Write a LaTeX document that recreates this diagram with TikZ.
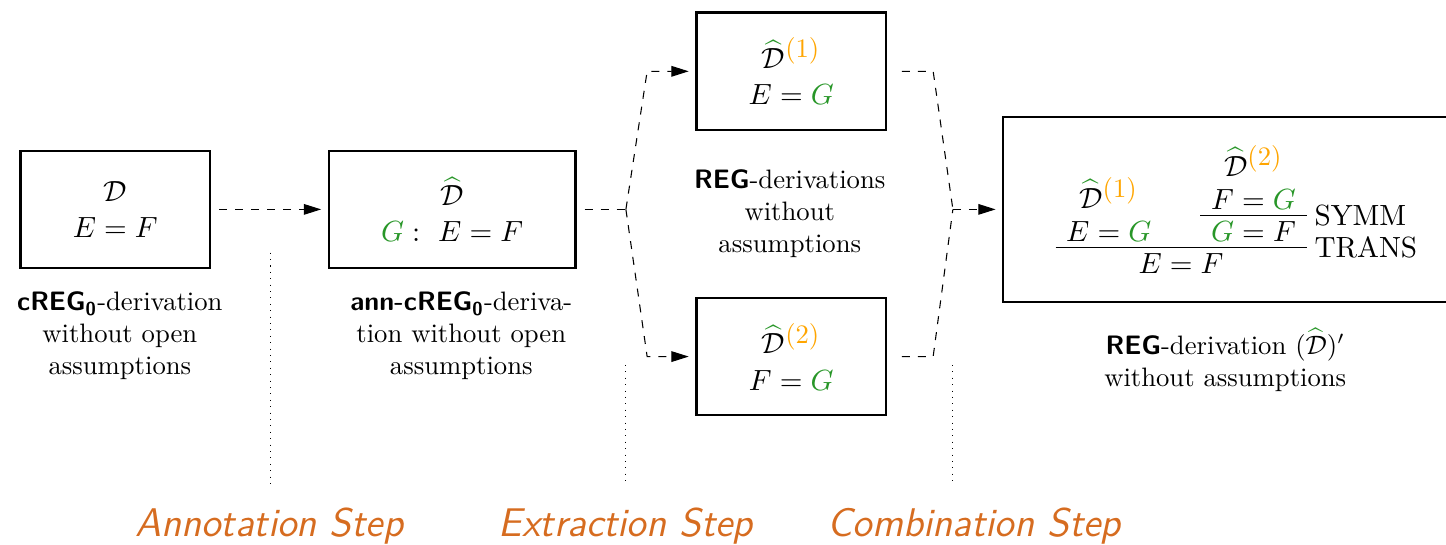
\documentclass[tikz,border=0pt]{standalone}
\usepackage{amsmath}
\usepackage{bussproofs}
\usetikzlibrary{arrows.meta}

\definecolor{anngreen}{RGB}{40,150,40}
\definecolor{idxorange}{RGB}{255,165,0}
\definecolor{stepcol}{RGB}{214,108,32}

\newcommand{\sysname}[1]{\textsf{\textbf{#1}}}
\newcommand{\Dann}{{\color{anngreen}\widehat{\color{black}\mathcal{D}}}}
\newcommand{\Didx}[1]{\Dann^{\text{\fontsize{10}{12}\selectfont\color{idxorange}(#1)}}}
\newcommand{\gG}{{\color{anngreen}G}}

\begin{document}
\begin{tikzpicture}[
  box/.style={draw, thick, align=center, minimum width=2.5cm, minimum height=1.55cm,
    font=\fontsize{10.95}{13.6}\selectfont},
  desc/.style={align=center},
  flow/.style={dashed, -{Triangle[length=6.5pt,width=4pt]}, shorten <=3pt, shorten >=2.5pt},
  link/.style={dashed, shorten <=3pt},
  sep/.style={dotted},
  stepname/.style={font=\fontsize{15}{18}\selectfont\sffamily\slshape, text=stepcol}]
\useasboundingbox (0,0) rectangle (19.06,7.18);
% the derivations
\node[box] (orig) at (1.52,4.42) {$\mathcal{D}$\\$E = F$};
\node[box, minimum width=3.25cm] (ann) at (5.96,4.42) {$\Dann$\\$\gG :\ E = F$};
\node[box] (part1) at (10.43,6.24) {$\Didx{1}$\\$E = \gG$};
\node[box] (part2) at (10.43,2.48) {$\Didx{2}$\\$F = \gG$};
\node[box, minimum width=6.27cm, minimum height=2.44cm] (comb) at (16.36,4.42) {%
  \AxiomC{$\Didx{1}$}\noLine\UnaryInfC{$E = \gG$}
  \AxiomC{$\Didx{2}$}\noLine\UnaryInfC{$F = \gG$}
  \RightLabel{SYMM}\UnaryInfC{$\gG = F$}
  \RightLabel{TRANS}\BinaryInfC{$E = F$}\DisplayProof};
% what each one is
\node[desc] (origtxt) at (1.58,2.75) {$\sysname{cREG}_{\sysname{0}}$-derivation\\without open\\assumptions};
\node[desc] (anntxt) at (6.08,2.75) {$\sysname{ann-cREG}_{\sysname{0}}$-deriva-\\tion without open\\assumptions};
\node[desc] (parttxt) at (10.41,4.36) {\sysname{REG}-derivations\\without\\assumptions};
\node[desc] (combtxt) at (16.15,2.44) {\sysname{REG}-derivation $(\Dann)'$\\without assumptions};
% fork and join points
\coordinate (fork) at (8.25,4.42);
\coordinate (forkup) at (8.53,6.24);
\coordinate (forkdown) at (8.53,2.48);
\coordinate (join) at (12.56,4.42);
\coordinate (joinup) at (12.30,6.24);
\coordinate (joindown) at (12.30,2.48);
\draw[flow] (orig) -- (ann);
\draw[link] (ann) -- (fork);
\draw[flow, shorten <=0pt] (fork) -- (forkup) -- (part1);
\draw[flow, shorten <=0pt] (fork) -- (forkdown) -- (part2);
\draw[link, shorten <=5.5pt] (part1) -- (joinup) -- (join);
\draw[link, shorten <=5.5pt] (part2) -- (joindown) -- (join);
\draw[flow, shorten <=0pt] (join) -- (comb);
% steps
\foreach \x/\top in {3.56/3.85, 8.25/2.37, 12.56/2.37}
  \draw[sep] (\x,\top) -- (\x,0.80);
\node[stepname] (annstep) at (3.55,0.25) {Annotation Step};
\node[stepname] (extstep) at (8.25,0.25) {Extraction Step};
\node[stepname] (combstep) at (12.84,0.25) {Combination Step};
\end{tikzpicture}
\end{document}
